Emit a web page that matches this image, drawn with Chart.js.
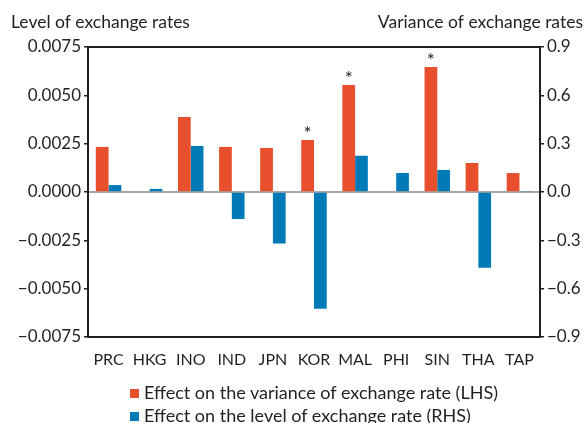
<!DOCTYPE html>
<html>
<head>
<meta charset="utf-8">
<script src="https://cdn.jsdelivr.net/npm/chart.js@4/dist/chart.umd.min.js"></script>
<style>
  html, body { margin: 0; padding: 0; background: #fff; }
  #wrap { width: 586px; height: 423px; position: relative; }
  #legend { position: absolute; left: 130px; top: 381px; font: 18px Lato, "Open Sans", sans-serif; color: #231F20; }
  #legend div { height: 23px; line-height: 23px; white-space: nowrap; }
  #legend span { display: inline-block; width: 9px; height: 9px; margin-right: 5px; vertical-align: 1px; }
</style>
</head>
<body>
<div id="wrap"><canvas id="chart" width="586" height="423"></canvas><div id="legend"></div></div>
<script>
// categories and series
const economies = ['PRC', 'HKG', 'INO', 'IND', 'JPN', 'KOR', 'MAL', 'PHI', 'SIN', 'THA', 'TAP'];
const varianceEffect = [0.00233, 0, 0.00388, 0.00233, 0.00228, 0.00269, 0.00553, 0, 0.00647, 0.0015, 0.00098];
const levelEffect = [0.043, 0.019, 0.286, -0.168, -0.32, -0.724, 0.225, 0.118, 0.137, -0.47, 0.006];
const significant = ['KOR', 'MAL', 'SIN'];
const leftTicks = ['\u22120.0075', '\u22120.0050', '\u22120.0025', '0.0000', '0.0025', '0.0050', '0.0075'];
const rightTicks = ['\u22120.9', '\u22120.6', '\u22120.3', '0.0', '0.3', '0.6', '0.9'];

const RED = '#E8502D';
const BLUE = '#007BB8';
const INK = '#231F20';
const FONT = 'Lato, "Open Sans", sans-serif';

// frame, zero line, asterisks and axis titles
const extras = {
    id: 'extras',
    beforeDatasetsDraw(chart) {
        const { ctx, chartArea: a } = chart;
        const y0 = chart.scales.y.getPixelForValue(0);
        ctx.save();
        ctx.strokeStyle = '#8a8a8a';
        ctx.lineWidth = 1.5;
        ctx.beginPath();
        ctx.moveTo(a.left, y0);
        ctx.lineTo(a.right, y0);
        ctx.stroke();
        ctx.restore();
    },
    afterDatasetsDraw(chart) {
        const { ctx, chartArea: a } = chart;
        ctx.save();
        ctx.strokeStyle = INK;
        ctx.lineWidth = 2;
        ctx.strokeRect(a.left, a.top, a.right - a.left, a.bottom - a.top);

        const meta = chart.getDatasetMeta(0);
        ctx.fillStyle = INK;
        ctx.font = '19px ' + FONT;
        ctx.textAlign = 'center';
        ctx.textBaseline = 'middle';
        significant.forEach(function(name) {
            const bar = meta.data[economies.indexOf(name)];
            ctx.fillText('*', bar.x, bar.y - 6);
        });

        ctx.font = '17.5px ' + FONT;
        ctx.textBaseline = 'alphabetic';
        ctx.textAlign = 'left';
        ctx.fillText('Level of exchange rates', 11, 28);
        ctx.textAlign = 'right';
        ctx.fillText('Variance of exchange rates', 583, 28);
        ctx.restore();
    }
};

const ctx = document.getElementById('chart').getContext('2d');
const chart = new Chart(ctx, {
    type: 'bar',
    data: {
        labels: economies,
        datasets: [{
            label: 'Effect on the variance of exchange rate (LHS)',
            data: varianceEffect,
            backgroundColor: RED,
            yAxisID: 'y'
        }, {
            label: 'Effect on the level of exchange rate (RHS)',
            data: levelEffect,
            backgroundColor: BLUE,
            yAxisID: 'y1'
        }]
    },
    options: {
        responsive: false,
        animation: false,
        layout: { padding: { top: 47, left: 0, right: 0, bottom: 56 } },
        datasets: {
            bar: { categoryPercentage: 0.62, barPercentage: 1.0 }
        },
        plugins: {
            legend: { display: false },
            tooltip: { enabled: false }
        },
        scales: {
            x: {
                afterFit(s) { s.height = 30; },
                grid: { display: false },
                border: { display: false },
                ticks: {
                    color: INK,
                    font: { family: FONT, size: 16 },
                    padding: 5,
                    maxRotation: 0,
                    autoSkip: false
                }
            },
            y: {
                position: 'left',
                min: -0.0075,
                max: 0.0075,
                afterFit(s) { s.width = 88; },
                grid: { drawOnChartArea: false, drawTicks: true, tickLength: 4, color: INK, lineWidth: 1.5 },
                border: { display: false },
                ticks: {
                    stepSize: 0.0025,
                    color: INK,
                    font: { family: FONT, size: 17 },
                    padding: 3,
                    callback: function(v, i) { return leftTicks[i]; }
                }
            },
            y1: {
                position: 'right',
                min: -0.9,
                max: 0.9,
                afterFit(s) { s.width = 46; },
                grid: { drawOnChartArea: false, drawTicks: true, tickLength: 4, color: INK, lineWidth: 1.5 },
                border: { display: false },
                ticks: {
                    stepSize: 0.3,
                    color: INK,
                    font: { family: FONT, size: 17 },
                    padding: 3,
                    callback: function(v, i) { return rightTicks[i]; }
                }
            }
        }
    },
    plugins: [extras]
});

// legend built from the datasets, left-aligned like the original
const legend = document.getElementById('legend');
chart.data.datasets.forEach(function(ds) {
    const row = document.createElement('div');
    const box = document.createElement('span');
    box.style.background = ds.backgroundColor;
    row.appendChild(box);
    row.appendChild(document.createTextNode(ds.label));
    legend.appendChild(row);
});
</script>
</body>
</html>
